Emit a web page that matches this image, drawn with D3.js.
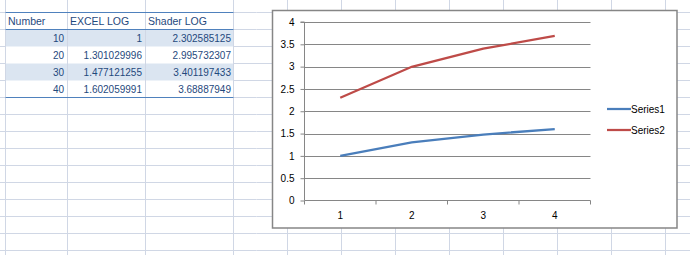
<!DOCTYPE html>
<html><head><meta charset="utf-8">
<script src="https://cdn.jsdelivr.net/npm/d3@7"></script>
<style>html,body{margin:0;padding:0;background:#fff;overflow:hidden}svg{display:block}</style>
</head><body><svg id="c" width="690" height="255"></svg>
<script>
// ---- data ----
const tableHeaders = ["Number", "EXCEL LOG", "Shader LOG"];
const numbers = [10, 20, 30, 40];
const excelLog = ["1", "1.301029996", "1.477121255", "1.602059991"];
const shaderLog = ["2.302585125", "2.995732307", "3.401197433", "3.68887949"];
const categories = ["1", "2", "3", "4"];
const series1 = [1, 1.301029996, 1.477121255, 1.602059991];
const series2 = [2.302585125, 2.995732307, 3.401197433, 3.68887949];
const seriesNames = ["Series1", "Series2"];
const yTicks = [0, 0.5, 1, 1.5, 2, 2.5, 3, 3.5, 4];

const svg = d3.select("#c");
const W = 690, H = 255;
const gridColor = "#d0d7e5";
const font = "'Liberation Sans', Arial, sans-serif";

// ---- spreadsheet grid ----
const colLines = [5.5, 67.5, 145.5].concat(d3.range(233.5, W, 54));
const rowLines = d3.range(12.5, H, 17);
const grid = svg.append("g");
// table shading
const tblX0 = 5.5, tblX1 = 233.5;
numbers.forEach((n, i) => {
  if (i % 2 === 0) {
    grid.append("rect").attr("x", tblX0).attr("y", rowLines[1] + 17 * i)
      .attr("width", tblX1 - tblX0).attr("height", 17).attr("fill", "#dbe5f1");
  }
});
rowLines.forEach((y, i) => {
  if (i >= 2 && i <= 4) {
    // inside table: only outside table columns
    grid.append("line").attr("x1", 0).attr("x2", tblX0).attr("y1", y).attr("y2", y).attr("stroke", gridColor);
    grid.append("line").attr("x1", tblX1).attr("x2", W).attr("y1", y).attr("y2", y).attr("stroke", gridColor);
  } else {
    grid.append("line").attr("x1", 0).attr("x2", W).attr("y1", y).attr("y2", y).attr("stroke", gridColor);
  }
});
colLines.forEach(x => {
  grid.append("line").attr("x1", x).attr("x2", x).attr("y1", 0).attr("y2", H).attr("stroke", gridColor);
});
// table borders
[rowLines[0], rowLines[1], rowLines[5]].forEach(y => {
  grid.append("line").attr("x1", tblX0).attr("x2", tblX1).attr("y1", y).attr("y2", y)
    .attr("stroke", "#4f81bd").attr("stroke-width", 1);
});
// header text
const hdrX = [8, 70, 148];
tableHeaders.forEach((h, i) => {
  grid.append("text").attr("x", hdrX[i]).attr("y", 25).text(h)
    .attr("font-family", font).attr("font-size", "10.5px").attr("fill", "#1f497d");
});
const colRight = [64, 142, 231];
numbers.forEach((n, i) => {
  const y = rowLines[1] + 17 * i + 12.5;
  [String(n), excelLog[i], shaderLog[i]].forEach((v, j) => {
    grid.append("text").attr("x", colRight[j]).attr("y", y).text(v)
      .attr("text-anchor", "end").attr("font-family", font).attr("font-size", "10px").attr("fill", "#1f497d");
  });
});

// ---- chart ----
const box = {x: 272.5, y: 10.5, w: 404.5, h: 217.5};
svg.append("rect").attr("x", box.x).attr("y", box.y).attr("width", box.w).attr("height", box.h)
  .attr("fill", "#fff").attr("stroke", "#868686").attr("stroke-width", 1.5);

const x = d3.scaleBand().domain(categories).range([304.5, 590.5]);
const y = d3.scaleLinear().domain([0, 4]).range([200.5, 22]);
const axisColor = "#868686";

const g = svg.append("g");
// gridlines
g.selectAll(".gl").data(yTicks.filter(t => t > 0)).enter().append("line")
  .attr("x1", x.range()[0]).attr("x2", x.range()[1])
  .attr("y1", d => Math.round(y(d)) + 0.5).attr("y2", d => Math.round(y(d)) + 0.5)
  .attr("stroke", axisColor).attr("stroke-width", 1);

// y axis
const yAxis = d3.axisLeft(y).tickValues(yTicks).tickSize(4).tickPadding(6).tickFormat(d3.format("~g"));
const ya = g.append("g").attr("transform", `translate(${x.range()[0]},0)`).call(yAxis);
ya.select(".domain").attr("stroke", axisColor).attr("d", `M-4,${y(4)}H0V${y(0)}`);
ya.selectAll(".tick line").attr("stroke", axisColor);
ya.selectAll(".tick text").attr("font-family", font).attr("font-size", "10px").attr("fill", "#000");

// x axis
const xa = g.append("g").attr("transform", `translate(0,${y(0)})`);
xa.append("line").attr("x1", x.range()[0]).attr("x2", x.range()[1]).attr("y1", 0).attr("y2", 0).attr("stroke", axisColor);
const bounds = categories.map(c => x(c)).concat([x.range()[1]]);
xa.selectAll(".xt").data(bounds).enter().append("line")
  .attr("x1", d => d).attr("x2", d => d).attr("y1", 0).attr("y2", 4).attr("stroke", axisColor);
xa.selectAll(".xl").data(categories).enter().append("text")
  .attr("x", d => x(d) + x.bandwidth() / 2).attr("y", 18).attr("text-anchor", "middle")
  .attr("font-family", font).attr("font-size", "10px").attr("fill", "#000").text(d => d);

// lines
const colors = ["#4a7ebb", "#be4b48"];
const line = d3.line().x((d, i) => x(categories[i]) + x.bandwidth() / 2).y(d => y(d));
[series1, series2].forEach((s, k) => {
  g.append("path").datum(s).attr("d", line).attr("fill", "none")
    .attr("stroke", colors[k]).attr("stroke-width", 2.25);
});

// legend
const legY = [109, 130];
seriesNames.forEach((n, k) => {
  g.append("line").attr("x1", 607).attr("x2", 631).attr("y1", legY[k]).attr("y2", legY[k])
    .attr("stroke", colors[k]).attr("stroke-width", 2.25);
  g.append("text").attr("x", 631).attr("y", legY[k]).attr("dy", "0.35em").text(n)
    .attr("font-family", font).attr("font-size", "10px").attr("fill", "#000");
});
</script>
</body></html>
